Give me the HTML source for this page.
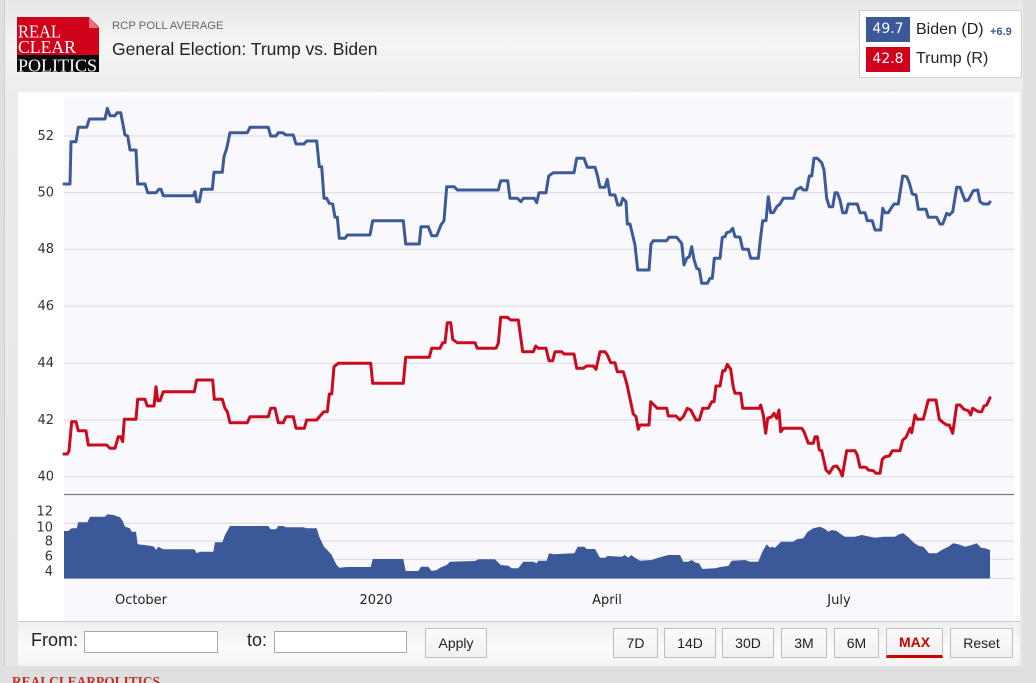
<!DOCTYPE html>
<html>
<head>
<meta charset="utf-8">
<style>
  html,body{margin:0;padding:0;}
  body{width:1036px;height:683px;overflow:hidden;background:#dfdfdf;position:relative;font-family:"Liberation Sans",Arial,sans-serif;}
  .container{position:absolute;left:4px;top:0;width:1018px;height:666px;border-left:1px solid #cdcdcd;
    background:linear-gradient(to bottom,#e8e8e8 0px,#f4f4f4 45px,#ececec 95px,#e6e6e6 100%);}
  .panel{position:absolute;left:18px;top:92px;width:1002px;height:529px;background:#fff;}
  .ctrl{position:absolute;left:18px;top:621px;width:1002px;height:45px;border-top:1px solid #cccccc;box-sizing:border-box;
    background:linear-gradient(to bottom,#efefef,#fbfbfb 60%,#f3f3f3);}
  .abs{position:absolute;}
  .lbl{font-size:18px;color:#222;}
  .inp{position:absolute;height:22px;border:1px solid #a9a9a9;background:#fff;box-sizing:border-box;}
  .btn{position:absolute;top:628px;height:30px;box-sizing:border-box;border:1px solid #bdbdbd;
    background:linear-gradient(#fbfbfb,#f1f1f1);font-size:14px;color:#222;text-align:center;line-height:28px;}
  .legend{position:absolute;left:859px;top:10px;width:163px;height:68px;box-sizing:border-box;border:1px solid #cfcfcf;background:#fff;}
  .lb{position:absolute;left:866px;width:44px;height:25px;color:#fff;font-family:"DejaVu Sans",Verdana,sans-serif;font-size:14px;text-align:center;line-height:25px;}
  .lt{position:absolute;left:916px;font-size:16px;color:#222;}
</style>
</head>
<body>
<div class="container"></div>

<!-- logo -->
<svg class="abs" style="left:0;top:0" width="110" height="80">
  <rect x="17" y="17" width="82" height="38" fill="#d0021b"/>
  <rect x="17" y="55" width="82" height="17" fill="#0a0a0a"/>
  <polygon points="88,16 100,16 100,28" fill="#ededed"/>
  <polygon points="89,17 99,28 89,28" fill="#e8707e"/>
  <g font-family="'Liberation Serif','Times New Roman',serif" font-size="18" fill="#fff">
    <text x="18" y="37.5" textLength="43" lengthAdjust="spacingAndGlyphs">REAL</text>
    <text x="18" y="53" textLength="58" lengthAdjust="spacingAndGlyphs">CLEAR</text>
    <text x="18" y="71.3" textLength="79" lengthAdjust="spacingAndGlyphs">POLITICS</text>
  </g>
</svg>

<div class="abs" style="left:112px;top:20px;font-size:11.3px;color:#666;">RCP POLL AVERAGE</div>
<div class="abs" style="left:112px;top:39px;font-size:17.5px;color:#222;">General Election: Trump vs. Biden</div>

<!-- legend -->
<div class="legend"></div>
<div class="lb" style="top:17px;background:#3b5998;">49.7</div>
<div class="lb" style="top:47px;background:#d0021b;">42.8</div>
<div class="lt" style="top:21px;">Biden (D)</div>
<div class="abs" style="left:990px;top:26px;font-size:11px;font-weight:bold;color:#3b5998;">+6.9</div>
<div class="lt" style="top:50px;">Trump (R)</div>

<div class="panel"></div>

<svg class="abs" style="left:0;top:0" width="1036" height="683">
  <rect x="64" y="97" width="950" height="524" fill="#f9f9fd"/>
  <g stroke="#d9d9df" stroke-width="1">
    <line x1="64" x2="1014" y1="136" y2="136"/>
    <line x1="64" x2="1014" y1="192.7" y2="192.7"/>
    <line x1="64" x2="1014" y1="249.3" y2="249.3"/>
    <line x1="64" x2="1014" y1="306" y2="306"/>
    <line x1="64" x2="1014" y1="363.3" y2="363.3"/>
    <line x1="64" x2="1014" y1="420" y2="420"/>
    <line x1="64" x2="1014" y1="476.7" y2="476.7"/>
    <line x1="64" x2="1014" y1="523.3" y2="523.3"/>
    <line x1="64" x2="1014" y1="541" y2="541"/>
    <line x1="64" x2="1014" y1="559.3" y2="559.3"/>
    <line x1="64" x2="1014" y1="578.5" y2="578.5"/>
  </g>
  <line x1="64" x2="1014" y1="494.5" y2="494.5" stroke="#7d7d7d" stroke-width="1.2"/>

  <g font-family="'DejaVu Sans',Verdana,sans-serif" font-size="13" fill="#333" text-anchor="end" dominant-baseline="central">
    <text x="54" y="136.5">52</text>
    <text x="54" y="193">50</text>
    <text x="54" y="249.5">48</text>
    <text x="54" y="306.5">46</text>
    <text x="54" y="363.5">44</text>
    <text x="54" y="420.5">42</text>
    <text x="54" y="477">40</text>
    <text x="53" y="512">12</text>
    <text x="53" y="528">10</text>
    <text x="53" y="542">8</text>
    <text x="53" y="557">6</text>
    <text x="53" y="572">4</text>
  </g>
  <g font-family="'DejaVu Sans',Verdana,sans-serif" font-size="13" fill="#222" text-anchor="middle" dominant-baseline="central">
    <text x="141" y="600.5">October</text>
    <text x="376" y="600.5">2020</text>
    <text x="607" y="600.5">April</text>
    <text x="839" y="600.5">July</text>
  </g>

  <polygon fill="#3b5998" points="64,578.5 64,531 68.3,531 71.7,528.3 76.7,528.3 78.3,522.3 87.3,522.3 90,516.7 105,516.7 107.3,514.3 113.3,515 120,517.3 122.7,521 125,526.7 130,528.3 131.7,531.7 136,531.7 137.7,544.3 150,545.7 154,546.7 156,550 158.3,546.7 163.3,549.3 193.3,549.3 195,550 196.7,553.3 200,551.7 213.3,551.7 215,542.3 222.3,542.3 225,535 230,526 268.3,526 270.7,529.3 276,529.3 278.3,526 283.3,526 286,527.3 303.3,527.3 306.7,528.3 316.7,528.3 319.3,536.7 324,546.7 327.3,550 331.7,555 334,560 336.7,565 339.3,567.7 346.7,567 370.7,567 372.7,559 403.3,559 405.7,571 418.3,571 421,566.7 428.3,566.7 431.7,571 436.7,570 440,567.7 446.7,565 450,561.7 475,561 478.3,559.3 495,559.3 500.7,565 508.3,565.7 511.7,568.3 518.3,568.3 523.3,561.7 533.3,561.7 536.7,563.3 538.3,560.7 546.7,560.7 549,553.3 553.3,554.3 574.3,553.3 577.7,546.7 584.3,546.7 586.7,549 595,549 600,557.7 605,557.7 607.7,556 621.7,556.7 625,555 628.3,557.7 631,555 635,557.7 640,560.7 651.7,560 658.3,557.7 668.3,555 680,555 683.3,561.7 688.3,561.7 691.7,560 695.7,562.7 699,563.3 702.3,569 715,568.3 721.7,566.7 728.3,566 731.7,560.7 745,560 750,561.7 758.3,561.7 762.3,551.7 766.7,544.3 770,547.7 772.3,546.7 775,547.7 781,541.7 793.3,541.7 796.7,539.3 803.3,538.3 807.7,531.7 813.3,528.3 820,526.7 825,529 828.3,531.7 831.7,530 836.7,531 841,534.3 845,536.7 855,536.7 861.7,535 875,537.7 883.3,536.7 895,536.7 899,534.3 903.3,533.3 908.3,537.3 913.3,542.3 918.3,545.7 923.3,546.7 929,553.3 936.7,553.3 941.7,550 948.3,546.7 953.3,543.3 958.3,544.3 965,546.7 971.7,545 976.7,543.3 981,547.7 985,548.3 990,550 990,578.5"/>

  <polyline fill="none" stroke="#3c5a97" stroke-width="3" stroke-linejoin="round" stroke-linecap="round" points="64,184 70,184 71,141.7 76,141.7 78.3,127.3 86.7,127.3 89.3,119 105,119 107.3,108.3 110,115.7 115,115.7 117.3,112.7 120.7,112.7 125,135 127.7,136 130,150 136,150 137.7,184 145,184 147.7,192.7 156,192.7 159,189.3 161,189.3 163.3,195.7 193.3,195.7 195,191.7 196.7,201.7 199.3,201.7 201.7,189.3 212.3,189.3 214,172.3 222.3,172.3 224,156.7 226.7,148.3 230,132.7 247.3,132.7 250,127.3 268.3,127.3 270.7,136 276,136 278.3,132.7 282.7,132.7 286,135 293.3,135 296,144 304,144 306.7,141 316.7,141 319.3,166.7 321.7,166.7 324,198.3 326.7,198.3 329.3,203.3 332.7,204 335,217.3 337.3,217.3 339.3,238.3 345,238.3 347.3,235 370,235 372.7,220.7 403.3,220.7 405.7,244 419.3,244 421,226.7 428.3,226.7 431.7,235.7 436.7,235.7 441,225 444,220.7 446.7,186.7 454.3,186.7 457.3,190 498.3,190 500.7,180.7 507.7,180.7 510,198.3 517.3,198.3 521,201.7 523.3,198.3 534.3,198.3 536.7,202.7 539,192.7 546,192.7 548.7,176 553.3,172.7 574,172.7 576.7,158.3 584,158.3 587.3,167.3 595,167.3 597.3,175 600,187.3 605,187.3 607.3,179.3 610,195 615,195 617.7,205 620.7,205 622.7,198.3 626,201.7 627.3,224 630,224 635,245 637.7,270 649,270 651,244 653.3,240.7 666.7,240.7 669,237.3 676.7,237.3 681.7,243.3 684,265 686.7,258.3 689.3,256.7 691.7,246.7 694,259.3 696.7,268.3 699.3,269.3 701.7,283.3 707.3,283.3 710,278.3 712.3,278.3 714.3,258.3 720,258.3 722.3,237.3 725,236.7 726.7,232.7 730,231.7 732.7,228.3 735,236.7 740,237.3 742.7,249.3 748.3,249.3 750.7,258.3 758.3,258.3 760.7,236.7 762.7,220.7 766,220.7 768.3,196.7 770.7,212.7 773.3,212.7 776.7,206.7 780,204 783.3,198.3 793.3,198.3 796,190 800.7,187.3 803.3,190 806.7,190 809.3,176 811.7,176 814,158.3 817.3,158.3 821.7,162.7 824,170 826.7,198.3 829.3,206.7 832.7,206.7 835,192.7 837.3,192.7 840,200 842.7,212.7 846,212.7 848.3,204 857.3,204 860,212.7 865,212.7 867.3,220.7 872.3,220.7 875,230 880.7,230 882.7,208.3 885,212.7 888.3,212.7 891.7,207.3 894,204 898.3,204 902.7,176 906.7,176.7 909.3,182.7 912.3,194 916,195 918.3,209.3 926,209.3 928.3,217.3 936.7,217.3 940,224 942.7,224 946.7,213.3 949.3,215 952.7,211.7 956.7,187.3 960,187.3 965,200.7 968.3,200 973.3,190.7 977.7,190 980,201.7 983.3,204 988.3,204 990,202"/>

  <polyline fill="none" stroke="#cc0a1e" stroke-width="3" stroke-linejoin="round" stroke-linecap="round" points="64,454 67.3,454 69,451 71.7,421.7 76,421.7 78.3,430.7 86,430.7 88.3,445 106.7,445 110,448.3 115,448.3 118.3,436.7 120.7,436.7 122.7,441.7 124.3,419.3 136,419.3 137.7,399.3 145,399.3 147.3,406 154,406 156,386.7 157.7,400.7 160,400.7 163.3,391.7 194.3,391.7 196.7,380 212.7,380 214.3,399.3 222.3,399.3 225,408.3 227.3,411.7 230,422.7 247.3,422.7 250,416.7 268.3,416.7 270.7,408.3 275,408.3 278.3,422.7 283.3,422.7 286,416.7 293.3,416.7 296,428.3 304.3,428.3 306.7,420 316.7,420 320,416 324,411.7 327.3,411.7 329.3,394 331.7,394 334,366.7 338.3,363.3 370.7,363.3 372.7,383.3 403.3,383.3 405.7,357.3 429.3,357.3 431.7,348.3 440,348.3 442.7,342.7 445,342.7 447.3,322.7 450.7,322.7 452.7,339.3 457.3,342.7 475,342.7 477.3,348.3 496,348.3 498.3,343.3 500.7,317.3 507.3,317.3 510.7,320 518.3,320 522.7,351.7 533.3,351.7 535.7,346 538.3,348.3 546,348.3 549,360.7 552.7,360.7 555,351.7 561.7,351.7 564,354 574,354 576.7,368.3 583.3,368.3 586.7,366 593.3,366 596,369.3 600,351.7 605,351.7 607.3,355 610.7,362.7 615,362.7 617.3,371.7 623.3,371.7 626.7,383.3 633.3,414 636,416.7 638.3,429.3 640,425 649,425 650.7,401.7 654,405 657.3,408.3 666.7,408.3 668.3,416 676,416 680,420 683.3,416.7 687.3,408.3 690.7,410 696,420 699.3,420 702.7,408.3 708.3,408.3 711.7,401.7 714,401.7 716,386 720,386 722.7,370.7 725,370.7 727.3,364.3 730.7,369.3 733.3,387.3 735,393.3 740.7,393.3 742.7,408.3 759.3,408.3 760.7,405 763.3,415 765.7,433.3 767.7,418.3 771.7,416.7 774,413.3 776.7,418.3 779,410 780.7,431.7 783.3,428.3 801.7,428.3 804,431.7 808.3,443.3 813.3,443.3 815,436.7 817.3,436.7 819.3,450 821.7,450.7 826,470 829.3,473.3 833.3,466.7 836.7,466 840,470.7 842.3,476 846.7,450.7 855,450.7 857.3,455 860,467.3 866,467.3 868.3,470 873.3,470.7 876,473.3 880,473.3 882.3,459.3 885,456.7 889.3,456 892.3,450.7 900,450.7 902.7,440 906,437.3 910,428.3 911.7,432.7 915,415 917.3,419.3 923.3,419.3 928.3,400 936,400 939.3,419.3 943.3,422.7 946.7,425 949.3,425 952.7,433.3 956.7,405 960,405 964,409.3 968.3,410.7 970.7,415 972.7,408.3 978.3,411.7 981.7,411.7 984,406 986.7,405 990,397.7"/>

  <text x="12" y="686" font-family="'Liberation Serif','Times New Roman',serif" font-weight="bold" font-size="14" fill="#b8312f" textLength="148" lengthAdjust="spacingAndGlyphs">REALCLEARPOLITICS</text>
</svg>

<!-- controls -->
<div class="ctrl"></div>
<div class="abs lbl" style="left:31px;top:630px;">From:</div>
<div class="inp" style="left:84px;top:631px;width:134px;"></div>
<div class="abs lbl" style="left:247px;top:630px;">to:</div>
<div class="inp" style="left:274px;top:631px;width:133px;"></div>
<div class="btn" style="left:425px;width:62px;">Apply</div>

<div class="btn" style="left:613px;width:45px;">7D</div>
<div class="btn" style="left:664px;width:52px;">14D</div>
<div class="btn" style="left:722px;width:52px;">30D</div>
<div class="btn" style="left:781px;width:46px;">3M</div>
<div class="btn" style="left:834px;width:45px;">6M</div>
<div class="btn" style="left:886px;width:57px;color:#cc0000;font-weight:bold;border-bottom:3px solid #cc0000;line-height:27px;">MAX</div>
<div class="btn" style="left:950px;width:63px;">Reset</div>
</body>
</html>
